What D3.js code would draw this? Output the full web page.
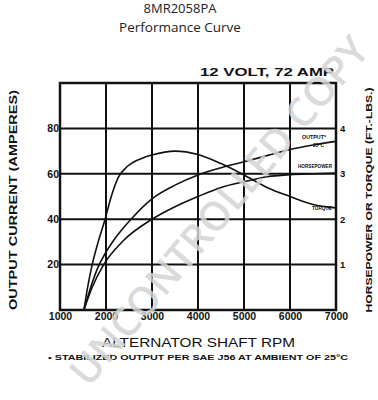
<!DOCTYPE html>
<html>
<head>
<meta charset="utf-8">
<script src="https://cdnjs.cloudflare.com/ajax/libs/d3/7.8.5/d3.min.js"></script>
<style>
body{margin:0;background:#fff;}
svg{display:block;}
</style>
</head>
<body>
<div id="chart"></div>
<script>
//curve values (rpm vs amps; right axis is amps/20)
var rpm_output = [1520,1700,1830,2000,2160,2500,3000,3500,4000,4500,5000,5500,6000,6500,7000];
var amps_output = [0,12,19,25.5,30.5,39,49,55,59.5,62.7,65.3,68,70.7,72.7,74.3];

var rpm_hp = [1520,1700,1950,2370,3000,3500,4000,4500,5000,5500,6000,6500,7000];
var amps_hp = [0,10,20,30.4,40,45.5,50,54,56.5,58.7,59.6,60,60.3];

var rpm_torque = [1520,1600,1700,1830,1980,2100,2270,2450,2800,3000,3500,4000,4500,5000,5500,6000,6500,7000];
var amps_torque = [0,10,20,30,40,49,58.5,63,67,68.3,70,68.5,64.5,59.5,54,50,46.5,45];

var x_ticks = [1000,2000,3000,4000,5000,6000,7000];
var y_ticks = [20,40,60,80];
var hp_ticks = [1,2,3,4];

var W = 378, H = 400;
var svg = d3.select("#chart").append("svg").attr("width",W).attr("height",H);

var x = d3.scaleLinear().domain([1000,7000]).range([60,336]);
var y = d3.scaleLinear().domain([0,100]).range([310,83]);
var y2 = d3.scaleLinear().domain([0,5]).range([310,83]);

var plotfont = "'Liberation Sans', Arial, sans-serif";

//titles
svg.append("text").attr("x",180).attr("y",13).attr("text-anchor","middle")
	.style("font-family","'Open Sans', sans-serif").style("font-size","13px").attr("fill","#222")
	.text("8MR2058PA");
svg.append("text").attr("x",180).attr("y",32).attr("text-anchor","middle")
	.style("font-family","'Open Sans', sans-serif").style("font-size","13.5px").attr("fill","#222")
	.text("Performance Curve");

svg.append("text").attr("x",200).attr("y",76).attr("textLength",134).attr("lengthAdjust","spacingAndGlyphs")
	.style("font-family",plotfont).style("font-size","11px").style("font-weight","bold").attr("fill","#111")
	.text("12 VOLT, 72 AMP");

//grid
var grid = svg.append("g");
grid.selectAll("line.v").data(x_ticks).enter().append("line").classed("v",true)
	.attr("x1",function(d){return x(d)}).attr("x2",function(d){return x(d)})
	.attr("y1",y(100)).attr("y2",y(0))
	.attr("stroke","#111").attr("stroke-width",2);
grid.selectAll("line.h").data(y_ticks).enter().append("line").classed("h",true)
	.attr("x1",x(1000)).attr("x2",x(7000))
	.attr("y1",function(d){return y(d)}).attr("y2",function(d){return y(d)})
	.attr("stroke","#111").attr("stroke-width",2);
grid.append("rect").attr("x",x(1000)).attr("y",y(100)).attr("width",x(7000)-x(1000)).attr("height",y(0)-y(100))
	.attr("fill","none").attr("stroke","#111").attr("stroke-width",2.5);

//axes labels (no domain lines, the frame already draws them)
var xAxis = svg.append("g").attr("transform","translate(0,"+y(0)+")")
	.call(d3.axisBottom(x).tickValues(x_ticks).tickSize(0).tickPadding(3).tickFormat(d3.format("d")));
var yAxis = svg.append("g").attr("transform","translate("+x(1000)+",0)")
	.call(d3.axisLeft(y).tickValues(y_ticks).tickSize(0).tickPadding(1));
var y2Axis = svg.append("g").attr("transform","translate("+x(7000)+",0)")
	.call(d3.axisRight(y2).tickValues(hp_ticks).tickSize(0).tickPadding(4).tickFormat(d3.format("d")));
[xAxis,yAxis,y2Axis].forEach(function(a){
	a.select(".domain").remove();
	a.selectAll("text").style("font-family",plotfont).style("font-size","10.5px").style("font-weight","bold").attr("fill","#111");
});
y2Axis.selectAll("text").style("font-size","9.5px");

//curves
var line = d3.line().x(function(d){return x(d[0])}).y(function(d){return y(d[1])}).curve(d3.curveMonotoneX);
var series = [
	{name:"output", data:d3.zip(rpm_output, amps_output)},
	{name:"hp", data:d3.zip(rpm_hp, amps_hp)},
	{name:"torque", data:d3.zip(rpm_torque, amps_torque)}
];
svg.append("g").selectAll("path.curve").data(series).enter().append("path").classed("curve",true)
	.attr("d",function(d){return line(d.data)})
	.attr("fill","none").attr("stroke","#111").attr("stroke-width",1.6);

//tiny curve labels
var tags = [
	{t:"OUTPUT*", x:302, y:139, w:24},
	{t:"25°C", x:313, y:147, w:11},
	{t:"HORSEPOWER", x:298, y:168, w:34},
	{t:"TORQUE", x:312, y:210, w:20}
];
svg.append("g").selectAll("text").data(tags).enter().append("text")
	.attr("x",function(d){return d.x}).attr("y",function(d){return d.y})
	.attr("textLength",function(d){return d.w}).attr("lengthAdjust","spacingAndGlyphs")
	.style("font-family",plotfont).style("font-size","5px").style("font-weight","900").attr("fill","#111")
	.text(function(d){return d.t});

//axis titles
svg.append("text").attr("x",102).attr("y",347).attr("textLength",193).attr("lengthAdjust","spacingAndGlyphs")
	.style("font-family",plotfont).style("font-size","13px").attr("fill","#111")
	.text("ALTERNATOR SHAFT RPM");
svg.append("text").attr("x",48).attr("y",360).attr("textLength",300).attr("lengthAdjust","spacingAndGlyphs")
	.style("font-family",plotfont).style("font-size","7.5px").style("font-weight","bold").attr("fill","#111")
	.text("\u2022  STABILIZED OUTPUT PER SAE J56 AT AMBIENT OF 25\u00b0C");
svg.append("text").attr("transform","translate(17,200) rotate(-90)").attr("text-anchor","middle")
	.attr("textLength",220).attr("lengthAdjust","spacingAndGlyphs")
	.style("font-family",plotfont).style("font-size","10.5px").style("font-weight","bold").attr("fill","#111")
	.text("OUTPUT CURRENT (AMPERES)");
svg.append("text").attr("transform","translate(372,200) rotate(-90)").attr("text-anchor","middle")
	.attr("textLength",225).attr("lengthAdjust","spacingAndGlyphs")
	.style("font-family",plotfont).style("font-size","9.5px").style("font-weight","bold").attr("fill","#111")
	.text("HORSEPOWER OR TORQUE (FT.-LBS.)");

//watermark on top, kept just inside the page
svg.append("text").attr("transform","translate(218,210) rotate(-50)").attr("text-anchor","middle")
	.attr("dominant-baseline","central").attr("textLength",440).attr("lengthAdjust","spacingAndGlyphs")
	.style("font-family","'Open Sans', sans-serif").style("font-size","40px").style("font-weight","600")
	.attr("fill","#d4d4d4").attr("fill-opacity",0.85)
	.text("UNCONTROLLED COPY");
</script>
</body>
</html>
